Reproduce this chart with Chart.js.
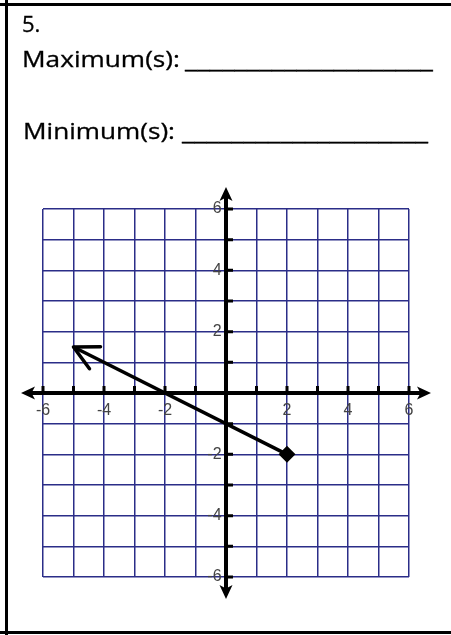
<!DOCTYPE html>
<html><head><meta charset="utf-8">
<script src="https://cdn.jsdelivr.net/npm/chart.js@4.4.0/dist/chart.umd.min.js"></script>
<style>
html,body{margin:0;padding:0;background:#fff;width:451px;height:635px;overflow:hidden;position:relative}
.b{position:absolute;background:#000}
.t{position:absolute;font-family:"Open Sans",sans-serif;font-size:22px;line-height:30px;color:#000;white-space:nowrap;transform-origin:0 0;-webkit-text-stroke:0.3px #000}
canvas{position:absolute;left:0;top:0}
</style></head><body>
<canvas id="c" width="451" height="635"></canvas>
<div class="b" style="left:0;top:3px;width:451px;height:3px"></div>
<div class="b" style="left:5px;top:0;width:3px;height:635px"></div>
<div class="b" style="left:0;top:631px;width:451px;height:3px"></div>
<div class="t" data-l="22" data-b="32">5.</div>
<div class="t" data-l="22" data-b="67" data-w="158">Maximum(s):</div>
<div class="t" data-l="185" data-b="68" data-w="248">____________________</div>
<div class="t" data-l="23" data-b="139" data-w="152">Minimum(s):</div>
<div class="t" data-l="182" data-b="140" data-w="246">____________________</div>
<script>
// ---- data ----
const lineX = [-5, 2];
const lineY = [1.5, -2];
const endMarkers = ['arrow', 'dot'];
const xTickLabels = [-6, -4, -2, 2, 4, 6];
const yTickLabels = [-6, -4, -2, 2, 4, 6];
const xMin = -6, xMax = 6, yMin = -6, yMax = 6;

// ---- text placement ----
function placeText(){
  document.querySelectorAll('.t').forEach(el=>{
    el.style.transform='none';
    const probe=document.createElement('span');
    probe.style.cssText='display:inline-block;width:0;height:0;vertical-align:baseline';
    el.appendChild(probe);
    const base=probe.offsetTop;
    el.removeChild(probe);
    el.style.left=el.dataset.l+'px';
    el.style.top=(+el.dataset.b-base)+'px';
    if(el.dataset.w){
      const w=el.getBoundingClientRect().width;
      el.style.transform='scaleX('+(+el.dataset.w/w)+')';
    }
  });
}
placeText();
if(document.fonts&&document.fonts.ready) document.fonts.ready.then(placeText);

// ---- plugins ----
function arrowHead(ctx, tx, ty, dx, dy, len, hw){
  const nx=-dy, ny=dx;
  ctx.beginPath();
  ctx.moveTo(tx,ty);
  ctx.lineTo(tx+dx*len+nx*hw, ty+dy*len+ny*hw);
  ctx.lineTo(tx+dx*len*0.75, ty+dy*len*0.75);
  ctx.lineTo(tx+dx*len-nx*hw, ty+dy*len-ny*hw);
  ctx.closePath();
  ctx.fill();
}
const axesPlugin={
  id:'axesDraw',
  beforeDatasetsDraw(chart){
    const {ctx, scales:{x,y}}=chart;
    const x0=x.getPixelForValue(0), y0=y.getPixelForValue(0);
    const ext=22;
    const L=x.getPixelForValue(xMin)-ext, R=x.getPixelForValue(xMax)+ext;
    const T=y.getPixelForValue(yMax)-ext, B=y.getPixelForValue(yMin)+ext;
    ctx.save();
    ctx.strokeStyle='#000'; ctx.fillStyle='#000';
    ctx.lineWidth=3;
    ctx.beginPath();
    for(let v=xMin; v<=xMax; v++){ if(v===0) continue; const px=x.getPixelForValue(v); ctx.moveTo(px,y0); ctx.lineTo(px,y0-7); }
    for(let v=yMin; v<=yMax; v++){ if(v===0) continue; const py=y.getPixelForValue(v); ctx.moveTo(x0,py); ctx.lineTo(x0+7,py); }
    ctx.stroke();
    ctx.lineWidth=4;
    ctx.beginPath();
    ctx.moveTo(L+8,y0); ctx.lineTo(R-8,y0);
    ctx.moveTo(x0,T+8); ctx.lineTo(x0,B-8);
    ctx.stroke();
    arrowHead(ctx,L,y0,1,0,14,6.5);
    arrowHead(ctx,R,y0,-1,0,14,6.5);
    arrowHead(ctx,x0,T,0,1,14,6.5);
    arrowHead(ctx,x0,B,0,-1,14,6.5);
    ctx.restore();
  }
};
const lineArrowPlugin={
  id:'lineArrow',
  afterDatasetsDraw(chart){
    const meta=chart.getDatasetMeta(0);
    const ctx=chart.ctx;
    endMarkers.forEach((m,i)=>{
      if(m!=='arrow') return;
      const p=meta.data[i], q=meta.data[i===0?1:i-1];
      let dx=q.x-p.x, dy=q.y-p.y; const d=Math.hypot(dx,dy); dx/=d; dy/=d;
      const a=27*Math.PI/180, len=27;
      ctx.save();
      ctx.strokeStyle='#000'; ctx.lineWidth=3.5; ctx.lineCap='round';
      ctx.beginPath();
      [a,-a].forEach(t=>{
        const rx=dx*Math.cos(t)-dy*Math.sin(t), ry=dx*Math.sin(t)+dy*Math.cos(t);
        ctx.moveTo(p.x,p.y); ctx.lineTo(p.x+rx*len,p.y+ry*len);
      });
      ctx.stroke();
      ctx.restore();
    });
  }
};

const tickFont={family:'"Liberation Sans", Arial, sans-serif', size:16};
new Chart(document.getElementById('c'),{
  type:'scatter',
  data:{datasets:[{
    data: lineX.map((v,i)=>({x:v,y:lineY[i]})),
    showLine:true,
    borderColor:'#000',
    borderWidth:3.5,
    pointStyle:'rectRot',
    pointRadius: endMarkers.map(m=>m==='dot'?6:0),
    pointBackgroundColor:'#000',
    pointBorderColor:'#000'
  }]},
  options:{
    responsive:false,
    animation:false,
    events:[],
    layout:{padding:{left:43,right:42,top:209,bottom:58}},
    plugins:{legend:{display:false},tooltip:{enabled:false}},
    scales:{
      x:{type:'linear',min:xMin,max:xMax,position:{y:0},
        border:{display:false},
        grid:{color:'#2b2d88',lineWidth:1.5,drawTicks:false},
        ticks:{stepSize:1,autoSkip:false,maxRotation:0,color:'#444',font:tickFont,padding:8,
          callback:v=>xTickLabels.includes(v)?String(v):''}},
      y:{type:'linear',min:yMin,max:yMax,position:{x:0},
        border:{display:false},
        grid:{color:'#2b2d88',lineWidth:1.5,drawTicks:false},
        ticks:{stepSize:1,autoSkip:false,color:'#444',font:tickFont,padding:5,
          callback:v=>yTickLabels.includes(v)?String(v)+' ':''}}
    }
  },
  plugins:[axesPlugin,lineArrowPlugin]
});
</script>
</body></html>
